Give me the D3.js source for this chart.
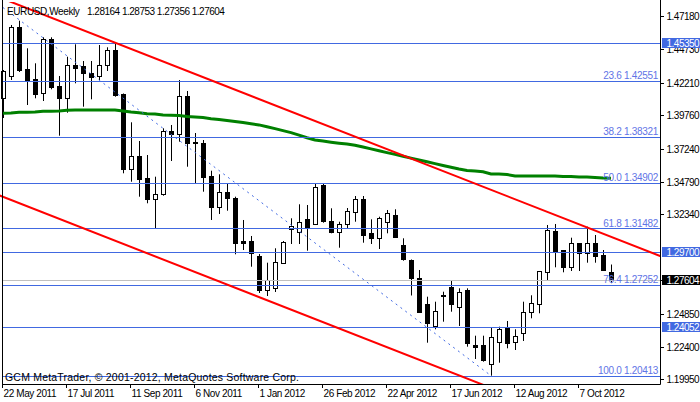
<!DOCTYPE html>
<html><head><meta charset="utf-8">
<script src="https://cdn.jsdelivr.net/npm/d3@7"></script>
<style>
body{margin:0;background:#fff}
svg{display:block}
text{font-family:"Liberation Sans",Arial,sans-serif}
</style>
</head><body>
<svg id="chart" width="700" height="402"></svg>
<script>
// ---------------- data ----------------
const titleText = "EURUSD,Weekly";
const titleQuote = "1.28164 1.28753 1.27356 1.27604";
const copyrightText = "GCM MetaTrader, \u00A9 2001-2012, MetaQuotes Software Corp.";

const opens = [1.41224,1.42919,1.46550,1.43422,1.42672,1.41599,1.45672,1.42146,1.41269,1.43722,
1.43647,1.43144,1.42897,1.43722,1.44847,1.41524,1.35897,1.36895,1.35245,1.33647,
1.34022,1.38771,1.38523,1.41396,1.37968,1.37893,1.35395,1.33092,1.34172,1.33767,
1.30518,1.30518,1.29393,1.26842,1.26993,1.28891,1.31396,1.31171,1.32146,1.31794,
1.34719,1.32019,1.31171,1.31831,1.32716,1.33669,1.31141,1.30721,1.31921,1.32469,
1.30218,1.29093,1.27743,1.25770,1.24179,1.26467,1.27045,1.25545,1.26842,1.22716,
1.22716,1.21269,1.22964,1.24089,1.22904,1.23594,1.25155,1.25770,1.28170,1.31269,
1.29806,1.28545,1.30346,1.29596,1.30346,1.29468,1.28164];
const highs = [1.43347,1.46723,1.47045,1.44975,1.43849,1.45800,1.45800,1.42897,1.44344,1.45275,
1.44022,1.44022,1.45222,1.45050,1.45395,1.41584,1.39423,1.38020,1.36970,1.35342,
1.38973,1.39221,1.42596,1.41771,1.38620,1.38095,1.35792,1.35522,1.34847,1.33842,
1.32094,1.30894,1.29543,1.28891,1.29971,1.30518,1.32221,1.33272,1.33219,1.34847,
1.34847,1.32972,1.31966,1.32994,1.33894,1.33894,1.32146,1.32342,1.32844,1.32897,
1.30721,1.29131,1.28343,1.26340,1.25965,1.26715,1.27518,1.26970,1.26970,1.23414,
1.23414,1.23992,1.24089,1.24517,1.23894,1.25965,1.26445,1.28268,1.31719,1.31794,
1.29843,1.30766,1.30368,1.31591,1.30969,1.29843,1.28753];
const lows = [1.39746,1.42596,1.43197,1.40721,1.41224,1.41021,1.41899,1.38418,1.40143,1.42349,
1.40594,1.41149,1.42596,1.43272,1.41344,1.35597,1.34967,1.33842,1.33347,1.31471,
1.33917,1.36520,1.37968,1.36092,1.34847,1.34217,1.32094,1.32544,1.32791,1.29521,
1.29843,1.28590,1.26617,1.26392,1.26692,1.28831,1.30293,1.30293,1.29791,1.31719,
1.31891,1.31096,1.30016,1.31494,1.31966,1.30391,1.30293,1.29918,1.31096,1.30781,
1.29041,1.26430,1.25140,1.22889,1.23894,1.24464,1.25215,1.24142,1.22589,1.21666,
1.21464,1.20413,1.21389,1.22469,1.22341,1.23017,1.24719,1.25095,1.27540,1.28545,
1.28170,1.28268,1.28268,1.28891,1.28891,1.28268,1.27356];
const closes = [1.43294,1.46550,1.43347,1.42596,1.41546,1.45672,1.42094,1.41269,1.43722,1.43519,
1.43099,1.42844,1.43722,1.44847,1.41471,1.35897,1.36895,1.35192,1.33647,1.34022,
1.38771,1.38523,1.41396,1.37893,1.37833,1.35342,1.33092,1.34172,1.33722,1.30391,
1.30391,1.29641,1.26842,1.27593,1.28966,1.30466,1.31666,1.31966,1.31471,1.34547,
1.32041,1.31216,1.31794,1.32769,1.33669,1.30969,1.30766,1.32221,1.32596,1.30841,
1.29168,1.27780,1.25215,1.24389,1.25230,1.26392,1.25755,1.26715,1.22889,1.22529,
1.21591,1.23294,1.23894,1.22889,1.23392,1.25155,1.25845,1.28245,1.31344,1.29768,
1.28605,1.30346,1.29596,1.30346,1.29416,1.28343,1.27604];
const maValues = [1.40098,1.40121,1.40173,1.40173,1.40196,1.40248,1.40248,1.40271,1.40323,1.40346,
1.40346,1.40346,1.40346,1.40346,1.40346,1.40271,1.40196,1.40143,1.40068,1.40046,
1.39971,1.39948,1.39933,1.39858,1.39821,1.39776,1.39693,1.39641,1.39566,1.39491,
1.39401,1.39318,1.39228,1.39093,1.38951,1.38801,1.38650,1.38463,1.38268,1.38095,
1.38013,1.37931,1.37855,1.37788,1.37705,1.37570,1.37428,1.37293,1.37150,1.37015,
1.36873,1.36737,1.36595,1.36460,1.36325,1.36182,1.36047,1.35920,1.35807,1.35770,
1.35717,1.35545,1.35545,1.35507,1.35395,1.35395,1.35395,1.35395,1.35395,1.35395,
1.35357,1.35357,1.35320,1.35320,1.35282,1.35245,1.35222];

const dateLabels = ["22 May 2011","17 Jul 2011","11 Sep 2011","6 Nov 2011","1 Jan 2012",
  "26 Feb 2012","22 Apr 2012","17 Jun 2012","12 Aug 2012","7 Oct 2012"];
const dateLabelIndex = [0,8,16,24,32,40,48,56,64,72];
const priceTicks = [1.47180,1.44730,1.42210,1.39760,1.37240,1.34790,1.32340,1.27380,1.24850,1.22400,1.19950];

const fibLevels = ["23.6","38.2","50.0","61.8","76.4","100.0"];
const fibPrices = [1.42551,1.38321,1.34902,1.31482,1.27252,1.20413];
const hLinePrices = [1.45350,1.29700,1.24052];
const bidPrice = 1.27604;
// trend objects: [bar index, price]
const fibTrend = [[-3,1.49390],[61,1.20413]];
const channelUpper = [[1,1.48454],[76,1.30833]];
const channelLower = [[0,1.33834],[76,1.15972]];

// ---------------- layout ----------------
const svg = d3.select("#chart");
const plotL = 2.5, plotR = 660.5, plotT = 2, plotB = 384.5;
const x = d3.scaleLinear().domain([0,1]).range([3,11]);
const y = d3.scaleLinear().domain([1.45350,1.20413]).range([43.3,375.7]);

const BLUE = "#4169e1", FIBTXT = "#5f74e6";

svg.append("rect").attr("width",700).attr("height",402).attr("fill","#fff");
svg.append("defs").append("clipPath").attr("id","plotclip")
  .append("rect").attr("x",0).attr("y",plotT).attr("width",plotR).attr("height",plotB-plotT);

const plot = svg.append("g").attr("clip-path","url(#plotclip)");

// candles
const idx = d3.range(opens.length);
const candles = plot.append("g");
candles.selectAll("line.wick").data(idx).join("line")
  .attr("x1",i=>Math.round(x(i))+0.5).attr("x2",i=>Math.round(x(i))+0.5)
  .attr("y1",i=>y(highs[i])).attr("y2",i=>y(lows[i]))
  .attr("stroke","#000").attr("stroke-width",1);
candles.selectAll("rect.body").data(idx).join("rect")
  .attr("x",i=>Math.round(x(i))-1.5).attr("width",4)
  .attr("y",i=>Math.round(y(Math.max(opens[i],closes[i])))+0.5)
  .attr("height",i=>Math.max(0,Math.round(y(Math.min(opens[i],closes[i])))-Math.round(y(Math.max(opens[i],closes[i])))))
  .attr("fill",i=>closes[i]>=opens[i]?"#fff":"#000")
  .attr("stroke","#000").attr("stroke-width",1);

// moving average
plot.append("path").datum(idx)
  .attr("d",d3.line().x(i=>x(i)).y(i=>y(maValues[i])))
  .attr("fill","none").attr("stroke","#008000").attr("stroke-width",3);

// horizontal lines
plot.selectAll("line.fib").data(fibPrices).join("line")
  .attr("x1",plotL).attr("x2",plotR)
  .attr("y1",d=>Math.round(y(d))+0.5).attr("y2",d=>Math.round(y(d))+0.5)
  .attr("stroke",BLUE).attr("stroke-width",1);
plot.selectAll("line.hl").data(hLinePrices).join("line")
  .attr("x1",plotL).attr("x2",plotR)
  .attr("y1",d=>Math.round(y(d))+0.5).attr("y2",d=>Math.round(y(d))+0.5)
  .attr("stroke",BLUE).attr("stroke-width",1);
plot.append("line").attr("x1",plotL).attr("x2",plotR)
  .attr("y1",Math.round(y(bidPrice))+0.5).attr("y2",Math.round(y(bidPrice))+0.5)
  .attr("stroke","#c0c0c0").attr("stroke-width",1);

// extended trend line helper
function extLine(pts, i0, i1){
  const [a,b]=pts; const s=(b[1]-a[1])/(b[0]-a[0]);
  return [[i0, a[1]+s*(i0-a[0])],[i1, a[1]+s*(i1-a[0])]];
}
const lineGen = d3.line().x(d=>x(d[0])).y(d=>y(d[1]));
plot.append("path").datum(fibTrend).attr("d",lineGen)
  .attr("fill","none").attr("stroke",BLUE).attr("stroke-width",1).attr("stroke-dasharray","2,4");
[channelUpper, channelLower].forEach(c=>{
  plot.append("path").datum(extLine(c,-2,84)).attr("d",lineGen)
    .attr("fill","none").attr("stroke","#ff0000").attr("stroke-width",2);
});

// fib labels
plot.selectAll("text.fibl").data(fibPrices).join("text")
  .attr("x",658).attr("y",d=>y(d)-1.5).attr("text-anchor","end")
  .attr("font-size",10).style("letter-spacing","-0.3px").attr("fill",FIBTXT)
  .text((d,i)=>fibLevels[i]+" "+d.toFixed(5));

// frame
svg.append("line").attr("x1",plotL).attr("x2",plotL).attr("y1",0).attr("y2",plotB).attr("stroke","#000");
svg.append("line").attr("x1",plotR).attr("x2",plotR).attr("y1",0).attr("y2",plotB).attr("stroke","#000");
svg.append("line").attr("x1",plotL).attr("x2",plotR).attr("y1",plotB).attr("y2",plotB).attr("stroke","#000");

// right axis ticks
const ax = svg.append("g");
priceTicks.forEach(v=>{
  const ty = Math.round(y(v)-2.5)+0.5;
  ax.append("line").attr("x1",661).attr("x2",664).attr("y1",ty).attr("y2",ty).attr("stroke","#000");
  ax.append("text").attr("x",666.5).attr("y",ty+3.5).attr("font-size",10)
    .style("letter-spacing","-0.5px").attr("fill","#000").text(v.toFixed(5));
});
// price boxes
function priceBox(v, bg){
  const cy = y(v);
  ax.append("rect").attr("x",662).attr("y",Math.round(cy)-5).attr("width",38).attr("height",10).attr("fill",bg);
  ax.append("text").attr("x",666.5).attr("y",Math.round(cy)+4).attr("font-size",10)
    .style("letter-spacing","-0.5px").attr("fill","#fff").text(v.toFixed(5));
}
hLinePrices.forEach(v=>priceBox(v,BLUE));
priceBox(bidPrice,"#000");

// bottom axis
dateLabelIndex.forEach((di,k)=>{
  const tx = Math.round(x(di))-0.5;
  svg.append("line").attr("x1",tx).attr("x2",tx).attr("y1",384).attr("y2",388).attr("stroke","#000");
  svg.append("text").attr("x",tx+1).attr("y",396.5).attr("font-size",10)
    .style("letter-spacing","-0.4px").attr("fill","#000").text(dateLabels[k]);
});

// title and copyright
svg.append("text").attr("x",7).attr("y",15).attr("font-size",10).style("letter-spacing","-0.4px")
  .attr("fill","#000").text(titleText);
svg.append("text").attr("x",87).attr("y",15).attr("font-size",10).style("letter-spacing","-0.5px")
  .attr("fill","#000").text(titleQuote);
svg.append("text").attr("x",5).attr("y",380.5).attr("font-size",10.5).style("letter-spacing","0.2px")
  .attr("fill","#000").text(copyrightText);
</script>
</body></html>
